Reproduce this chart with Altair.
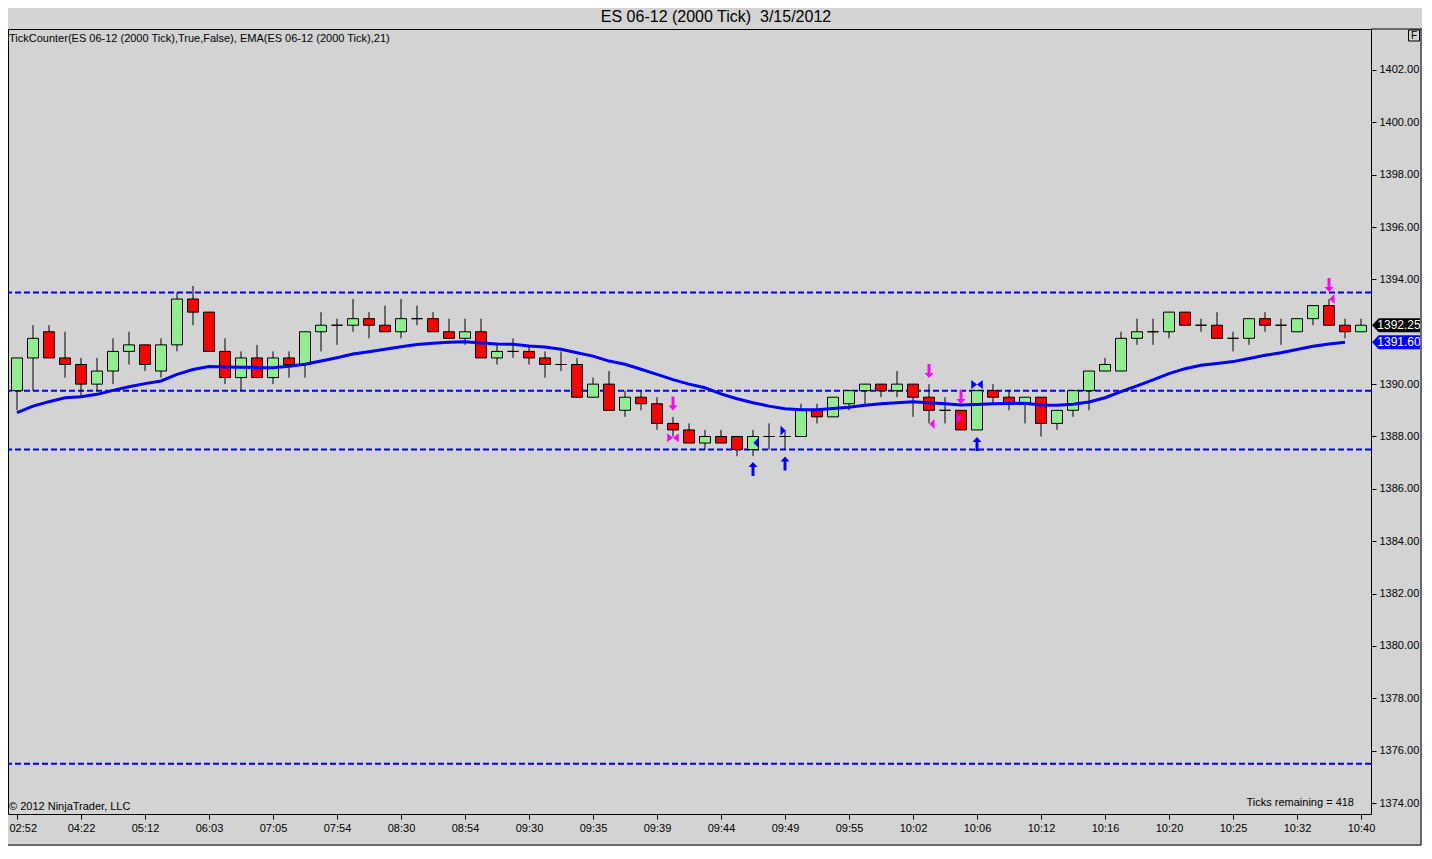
import altair as alt
import pandas as pd

FONT = "Liberation Sans"

# ---------------- data ----------------
opens = [1389.75, 1391.0, 1392.0, 1391.0, 1390.75, 1390.0, 1390.5, 1391.25, 1391.5, 1390.5,
         1391.5, 1393.25, 1392.75, 1391.25, 1390.25, 1391.0, 1390.25, 1391.0, 1390.75, 1392.0,
         1392.25, 1392.25, 1392.5, 1392.25, 1392.0, 1392.5, 1392.5, 1392.0, 1391.75, 1392.0,
         1391.0, 1391.25, 1391.25, 1391.0, 1390.75, 1390.75, 1389.5, 1390.0, 1389.0, 1389.5,
         1389.25, 1388.5, 1388.25, 1387.75, 1388.0, 1388.0, 1387.5, 1388.0, 1388.0, 1388.0,
         1389.0, 1388.75, 1389.25, 1389.75, 1390.0, 1389.75, 1390.0, 1389.5, 1389.0, 1389.0,
         1388.25, 1389.75, 1389.5, 1389.25, 1389.5, 1388.5, 1389.0, 1389.75, 1390.5, 1390.5,
         1391.75, 1392.0, 1392.0, 1392.75, 1392.25, 1392.25, 1391.75, 1391.75, 1392.5, 1392.25,
         1392.0, 1392.5, 1393.0, 1392.25, 1392.0]
highs = [1391.0, 1392.25, 1392.25, 1392.0, 1391.0, 1391.0, 1391.75, 1392.0, 1391.5, 1391.75,
         1393.5, 1393.75, 1392.75, 1391.75, 1391.25, 1391.5, 1391.25, 1391.25, 1392.0, 1392.75,
         1392.5, 1393.25, 1392.75, 1393.0, 1393.25, 1393.0, 1392.75, 1392.5, 1392.5, 1392.5,
         1391.5, 1391.75, 1391.5, 1391.25, 1391.25, 1391.0, 1390.25, 1390.5, 1389.75, 1389.75,
         1389.5, 1388.75, 1388.5, 1388.25, 1388.25, 1388.0, 1388.25, 1388.5, 1388.25, 1389.25,
         1389.25, 1389.5, 1389.75, 1390.0, 1390.0, 1390.5, 1390.0, 1390.0, 1389.5, 1389.0,
         1389.75, 1390.0, 1389.75, 1389.5, 1389.5, 1389.0, 1389.75, 1390.5, 1391.0, 1392.0,
         1392.5, 1392.5, 1392.75, 1392.75, 1392.5, 1392.75, 1392.0, 1392.5, 1392.75, 1392.5,
         1392.5, 1393.0, 1393.25, 1392.5, 1392.5]
lows = [1389.0, 1389.75, 1391.0, 1390.25, 1389.5, 1389.75, 1390.0, 1390.75, 1390.5, 1390.25,
        1391.25, 1392.25, 1391.25, 1390.0, 1389.75, 1390.25, 1390.0, 1390.25, 1390.25, 1391.25,
        1391.5, 1392.0, 1391.75, 1392.0, 1391.75, 1392.25, 1392.0, 1391.75, 1391.5, 1391.0,
        1390.75, 1391.0, 1390.75, 1390.25, 1390.5, 1389.5, 1389.5, 1389.0, 1388.75, 1389.0,
        1388.25, 1388.0, 1387.75, 1387.5, 1387.75, 1387.25, 1387.25, 1387.5, 1387.5, 1388.0,
        1388.5, 1388.75, 1389.0, 1389.25, 1389.5, 1389.5, 1388.75, 1388.5, 1388.5, 1388.25,
        1388.25, 1389.25, 1389.0, 1388.5, 1388.0, 1388.25, 1388.75, 1389.0, 1390.5, 1390.5,
        1391.5, 1391.5, 1391.75, 1392.25, 1392.0, 1391.75, 1391.25, 1391.5, 1392.0, 1391.5,
        1392.0, 1392.25, 1392.25, 1391.75, 1392.0]
closes = [1391.0, 1391.75, 1391.0, 1390.75, 1390.0, 1390.5, 1391.25, 1391.5, 1390.75, 1391.5,
          1393.25, 1392.75, 1391.25, 1390.25, 1391.0, 1390.25, 1391.0, 1390.75, 1392.0, 1392.25,
          1392.25, 1392.5, 1392.25, 1392.0, 1392.5, 1392.5, 1392.0, 1391.75, 1392.0, 1391.0,
          1391.25, 1391.25, 1391.0, 1390.75, 1390.75, 1389.5, 1390.0, 1389.0, 1389.5, 1389.25,
          1388.5, 1388.25, 1387.75, 1388.0, 1387.75, 1387.5, 1388.0, 1388.0, 1388.0, 1389.0,
          1388.75, 1389.5, 1389.75, 1390.0, 1389.75, 1390.0, 1389.5, 1389.0, 1389.0, 1388.25,
          1389.75, 1389.5, 1389.25, 1389.5, 1388.5, 1389.0, 1389.75, 1390.5, 1390.75, 1391.75,
          1392.0, 1392.0, 1392.75, 1392.25, 1392.25, 1391.75, 1391.75, 1392.5, 1392.25, 1392.25,
          1392.5, 1393.0, 1392.25, 1392.0, 1392.25]
ema_values = [1388.91, 1389.16, 1389.33, 1389.48, 1389.52, 1389.61, 1389.76, 1389.90, 1390.02, 1390.12,
              1390.37, 1390.56, 1390.67, 1390.65, 1390.64, 1390.63, 1390.63, 1390.68, 1390.76, 1390.88,
              1391.01, 1391.15, 1391.24, 1391.33, 1391.43, 1391.51, 1391.56, 1391.60, 1391.62, 1391.57,
              1391.53, 1391.52, 1391.46, 1391.42, 1391.33, 1391.20, 1391.07, 1390.88, 1390.76, 1390.57,
              1390.37, 1390.17, 1390.00, 1389.86, 1389.63, 1389.44, 1389.29, 1389.16, 1389.06, 1389.02,
              1389.02, 1389.07, 1389.12, 1389.19, 1389.25, 1389.29, 1389.33, 1389.29, 1389.25, 1389.20,
              1389.22, 1389.25, 1389.26, 1389.27, 1389.20, 1389.19, 1389.23, 1389.32, 1389.48, 1389.71,
              1389.93, 1390.16, 1390.40, 1390.59, 1390.72, 1390.79, 1390.86, 1390.98, 1391.10, 1391.20,
              1391.32, 1391.45, 1391.53, 1391.60]
time_labels = ["02:52", "04:22", "05:12", "06:03", "07:05", "07:54", "08:30", "08:54", "09:30",
               "09:35", "09:39", "09:44", "09:49", "09:55", "10:02", "10:06", "10:12", "10:16",
               "10:20", "10:25", "10:32", "10:40"]
price_ticks = [1374, 1376, 1378, 1380, 1382, 1384, 1386, 1388, 1390, 1394, 1396, 1398, 1400, 1402]
levels = [1393.5, 1389.75, 1387.5, 1375.5]

sig_idx = [42, 58, 60, 83, 47, 49, 61, 42, 47, 49, 58, 60, 61, 83]
sig_price = [1389.26, 1390.50, 1389.51, 1393.79, 1386.76, 1386.97, 1387.71,
             1387.95, 1387.76, 1388.23, 1388.48, 1388.71, 1389.99, 1393.25]
sig_kind = ["down", "down", "down", "down", "up", "up", "up",
            "bowtie", "tri_left", "tri_right", "tri_left", "tri_right", "bowtie", "tri_left"]
sig_side = ["sell", "sell", "sell", "sell", "buy", "buy", "buy",
            "sell", "buy", "buy", "sell", "sell", "buy", "sell"]

tag_price = [1392.25, 1391.60]
tag_kind = ["last", "ema"]

title_text = "ES 06-12 (2000 Tick)\u00a0 3/15/2012"
indicator_text = "TickCounter(ES 06-12 (2000 Tick),True,False), EMA(ES 06-12 (2000 Tick),21)"
copyright_text = "\u00a9 2012 NinjaTrader, LLC"
ticks_text = "Ticks remaining = 418"

# ---------------- tables ----------------
n = len(opens)
candles = pd.DataFrame({"idx": list(range(1, n + 1)), "open": opens, "high": highs,
                        "low": lows, "close": closes})
candles["dir"] = ["up" if c > o else ("down" if c < o else "flat") for o, c in zip(opens, closes)]
ema_df = pd.DataFrame({"idx": list(range(1, len(ema_values) + 1)), "ema": ema_values})
lvl_df = pd.DataFrame({"level": levels})
sig_df = pd.DataFrame({"idx": sig_idx, "price": sig_price, "kind": sig_kind, "side": sig_side})
tag_df = pd.DataFrame({"price": tag_price, "kind": tag_kind})

W, H = 1363, 785
BG = "#d3d3d3"

label_arr = "[" + ",".join("'%s'" % t for t in time_labels) + "]"
xscale = alt.Scale(domain=[0.4375, 85.625], nice=False, zero=False, padding=0)
yscale = alt.Scale(domain=[1373.58, 1403.565], nice=False, zero=False, padding=0)
xaxis = alt.Axis(values=list(range(1, 86, 4)), labelExpr=label_arr + "[round((datum.value-1)/4)]",
                 orient="bottom", tickSize=5, labelPadding=3, domain=False, grid=False, title=None,
                 labelAlign=alt.expr("datum.value == 1 ? 'left' : 'center'"),
                 labelOffset=alt.expr("datum.value == 1 ? -8 : 0"),
                 labelFont=FONT, labelFontSize=11, labelColor="black", tickColor="black")
yaxis = alt.Axis(values=price_ticks, format=".2f", orient="right", tickSize=5,
                 labelPadding=3, domain=False, grid=False, title=None, labelFont=FONT,
                 labelFontSize=11, labelColor="black", tickColor="black")


def X(f):
    return alt.X(f, scale=xscale, axis=xaxis)


def Y(f):
    return alt.Y(f, scale=yscale, axis=yaxis)


levels_layer = alt.Chart(lvl_df).mark_rule(color="#0000ff", strokeWidth=2, strokeDash=[6, 3]).encode(
    y=Y("level:Q"))

wicks = alt.Chart(candles).mark_rule(color="black", strokeWidth=1).encode(
    x=X("idx:Q"), y=Y("low:Q"), y2="high:Q")

bodies = alt.Chart(candles).mark_bar(width=11, stroke="black", strokeWidth=1).encode(
    x=X("idx:Q"), y=Y("open:Q"), y2="close:Q",
    color=alt.Color("dir:N", scale=alt.Scale(domain=["up", "down", "flat"],
                                             range=["#90ee90", "#ff0000", "#000000"]), legend=None))

ema_line = alt.Chart(ema_df).mark_line(color="#0000ff", strokeWidth=3).encode(
    x=X("idx:Q"), y=Y("ema:Q"))

SHAPES = {
    "down": ("M-0.21,-1 L0.21,-1 L0.21,0.29 L0.64,0.29 L0,1 L-0.64,0.29 L-0.21,0.29 Z", 196, 0),
    "up": ("M-0.21,1 L0.21,1 L0.21,-0.29 L0.64,-0.29 L0,-1 L-0.64,-0.29 L-0.21,-0.29 Z", 196, 0),
    "bowtie": ("M-1.15,-0.9 L0,0 L-1.15,0.9 Z M1.15,-0.9 L0,0 L1.15,0.9 Z", 100, 0),
    "tri_left": ("M-0.5,0 L0.5,-1 L0.5,1 Z", 100, 3),
    "tri_right": ("M0.5,0 L-0.5,-1 L-0.5,1 Z", 100, -2),
}
side_color = alt.Color("side:N", scale=alt.Scale(domain=["buy", "sell"], range=["#0000ff", "#ff00ff"]),
                       legend=None)
marker_layers = []
for k, (path, size, dx) in SHAPES.items():
    marker_layers.append(
        alt.Chart(sig_df).transform_filter(alt.datum.kind == k).mark_point(
            shape=path, size=size, filled=True, opacity=1, strokeWidth=0, xOffset=dx).encode(
            x=X("idx:Q"), y=Y("price:Q"), color=side_color))

TAG = "M-1,0 L-0.72,-0.29 L1,-0.29 L1,0.29 L-0.72,0.29 Z"
tags = alt.Chart(tag_df).mark_point(shape=TAG, size=2304, filled=True, opacity=1, strokeWidth=0).encode(
    x=alt.value(1388), y=Y("price:Q"),
    color=alt.Color("kind:N", scale=alt.Scale(domain=["last", "ema"], range=["#000000", "#0000ff"]),
                    legend=None))
tag_text = alt.Chart(tag_df).mark_text(font=FONT, fontSize=12, color="white", align="center",
                                       baseline="middle", dx=3).encode(
    x=alt.value(1388), y=Y("price:Q"), text=alt.Text("price:Q", format=".2f"))


def label(txt, x, y, size=11, align="left"):
    return alt.Chart(pd.DataFrame({"t": [txt]})).mark_text(
        font=FONT, fontSize=size, color="black", align=align, baseline="middle").encode(
        x=alt.value(x), y=alt.value(y), text="t:N")


title = label(title_text, 708, -12, size=16, align="center")
ind = label(indicator_text, 1, 10)
copy = label(copyright_text, 1, 778)
ticks = label(ticks_text, 1346, 774, align="right")
f_txt = label("F", 1406, 6.5, size=10, align="center")
f_box = alt.Chart(pd.DataFrame({"t": ["F"]})).mark_point(shape="square", size=121, filled=False,
                                                        color="black", strokeWidth=1, opacity=1).encode(
    x=alt.value(1406), y=alt.value(6.5))

frame_top = alt.Chart(pd.DataFrame({"t": [0]})).mark_rule(color="black", strokeWidth=1).encode(
    x=alt.value(1363), x2=alt.value(1414), y=alt.value(0))
frame_right = alt.Chart(pd.DataFrame({"t": [0]})).mark_rule(color="black", strokeWidth=1).encode(
    x=alt.value(1413), y=alt.value(0), y2=alt.value(816))
frame_bottom = alt.Chart(pd.DataFrame({"t": [0]})).mark_rule(color="black", strokeWidth=1).encode(
    x=alt.value(0), x2=alt.value(1413), y=alt.value(816))

chart = alt.layer(
    levels_layer, wicks, bodies, ema_line, *marker_layers, tags, tag_text,
    title, ind, copy, ticks, f_box, f_txt, frame_top, frame_right, frame_bottom
).resolve_scale(color="independent").properties(
    width=W, height=H,
    autosize=alt.AutoSizeParams(type="none"),
    padding={"left": 0, "top": 21, "right": 51, "bottom": 32},
    background=BG,
).configure_view(stroke="black", strokeWidth=1, fill=BG)

chart.save("out.html", embed_options={"renderer": "svg", "actions": False})
